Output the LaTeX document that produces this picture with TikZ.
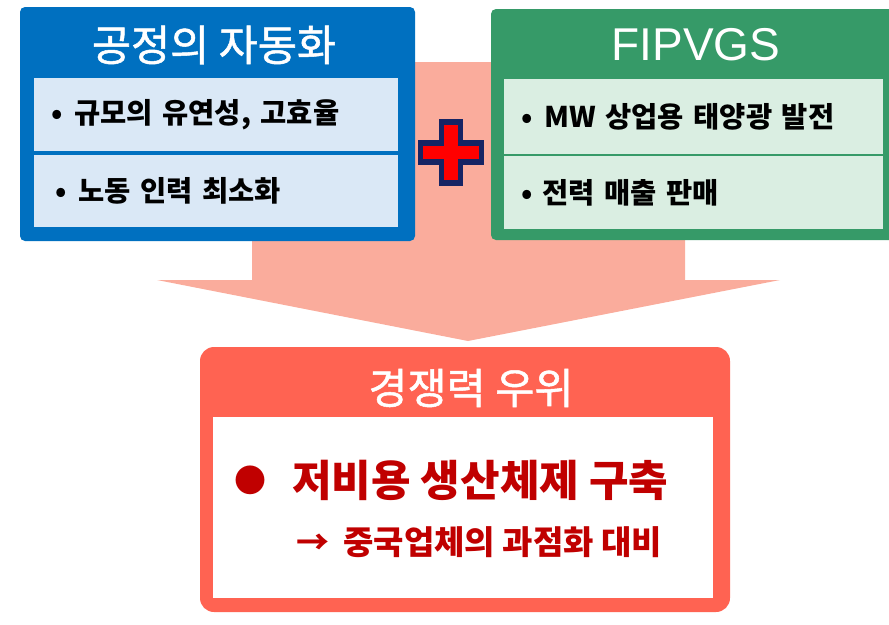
\documentclass[tikz,border=0pt]{standalone}
\usepackage{fontspec}
\setmainfont{Noto Sans CJK KR}
\newfontfamily\latinfont{Liberation Sans}
\newfontfamily\titlefont[FakeBold=1.2]{Noto Sans CJK KR}
\usepackage{tikz}
\usetikzlibrary{positioning, calc}

\definecolor{boxblue}{RGB}{0,112,192}
\definecolor{boxgreen}{RGB}{54,154,104}
\definecolor{boxsalmon}{RGB}{255,99,82}
\definecolor{panelblue}{RGB}{218,232,246}
\definecolor{panelgreen}{RGB}{218,238,226}
\definecolor{arrowpink}{RGB}{250,172,156}
\definecolor{plusnavy}{RGB}{22,36,100}
\definecolor{textred}{RGB}{192,0,0}
\newcommand{\fsz}[1]{\fontsize{#1pt}{#1pt}\selectfont}

\begin{document}
\begin{tikzpicture}[x=1pt, y=-1pt, thick]
        % Define block styles
        \tikzstyle{outerbox} = [rectangle, rounded corners=5pt, inner sep=0pt]
        \tikzstyle{titletext} = [text=white, inner sep=0pt, font=\titlefont\fsz{42.5}]
        \tikzstyle{bulletpanel} = [rectangle, inner xsep=17pt, inner ysep=0pt, minimum height=73pt, align=left, font=\bfseries\fsz{28.5}]

        \useasboundingbox (0,0) rectangle (889,624);

        % Big arrow behind the boxes
        \fill [arrowpink] (252,62) -- (685,62) -- (685,280) -- (780,280) -- (468,341) -- (157,280) -- (252,280) -- cycle;

        % Place nodes
        \node [outerbox, fill=boxblue, minimum width=395pt, minimum height=234pt] (auto) at (217.5,124) {};
        \node [titletext] (autotitle) at (214,45) {공정의 자동화};
        \node [bulletpanel, fill=panelblue, text width=330pt] (autoone) at (216,114.5) {•\hspace{12pt}규모의 유연성, 고효율};
        \node [bulletpanel, fill=panelblue, text width=330pt, minimum height=72pt] (autotwo) at (216,191) {\hspace{4pt}•\hspace{12pt}노동 인력 최소화};

        \node [outerbox, fill=boxgreen, minimum width=406pt, minimum height=231pt] (fipv) at (694,124.5) {};
        \node [titletext, font=\latinfont\fsz{46}] (fipvtitle) at (696,45) {FIPVGS};
        \node [bulletpanel, fill=panelgreen, text width=345pt, minimum height=75pt] (fipvone) at (693.5,116.5) {•\hspace{12pt}MW 상업용 태양광 발전};
        \node [bulletpanel, fill=panelgreen, text width=345pt] (fipvtwo) at (693.5,192.5) {•\hspace{10pt}전력 매출 판매};

        \node [outerbox, rounded corners=14pt, fill=boxsalmon, minimum width=530pt, minimum height=265pt] (edge) at (465,479.5) {};
        \node [titletext] (edgetitle) at (471,388) {경쟁력 우위};
        \node [rectangle, fill=white, minimum width=500pt, minimum height=181pt, inner sep=0pt] (edgepanel) at (463,507.5) {};
        \node [text=textred, anchor=west, inner sep=0pt, font=\bfseries\fsz{43}] (edgeone) at (292,480) {저비용 생산체제 구축};
        \node [text=textred, inner sep=0pt, font=\fsz{32}, left=25pt of edgeone] (edgedot) {●};
        \node [text=textred, anchor=west, inner sep=0pt, font=\bfseries\fsz{33}] (edgetwo) at (296,542) {→\hspace{14pt}중국업체의 과점화 대비};

        % Plus sign between the two boxes
        \coordinate (plus) at (451,152.5);
        \draw [plusnavy, fill=red, line width=5.5pt, shift={(plus)}] (-9.5,-30.5) -- (9.5,-30.5) -- (9.5,-9.5) -- (30.5,-9.5) -- (30.5,9.5) -- (9.5,9.5) -- (9.5,30.5) -- (-9.5,30.5) -- (-9.5,9.5) -- (-30.5,9.5) -- (-30.5,-9.5) -- (-9.5,-9.5) -- cycle;

    \end{tikzpicture}
\end{document}
